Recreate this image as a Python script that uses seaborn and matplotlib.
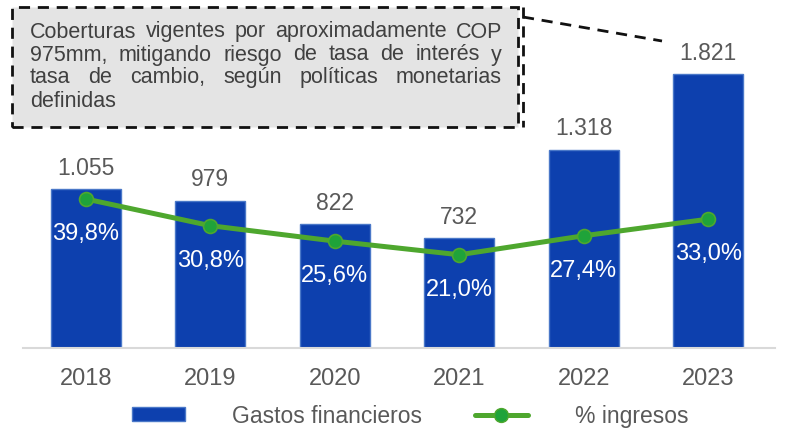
import numpy as np
import seaborn as sns
import matplotlib.pyplot as plt
from matplotlib.patches import Patch, Rectangle
from matplotlib.lines import Line2D

years = ['2018', '2019', '2020', '2021', '2022', '2023']
gastos = [1055, 979, 822, 732, 1318, 1821]
pct_ingresos = [39.8, 30.8, 25.6, 21.0, 27.4, 33.0]
note_lines = [
    "Coberturas vigentes por aproximadamente COP",
    "975mm, mitigando riesgo de tasa de interés y",
    "tasa de cambio, según políticas monetarias",
    "definidas",
]

BLUE = '#0D40AE'
EDGE = '#4A78C8'
GREEN = '#4EA72E'
DOT = '#1FA33A'
GREY = '#595959'

sns.set_style('white')
plt.rcParams['font.family'] = ['Liberation Sans', 'DejaVu Sans']

W, H = 795, 431
fig = plt.figure(figsize=(W / 100, H / 100), dpi=100)
ax = fig.add_axes([23 / W, 1 - 349 / H, (775 - 23) / W, (349 - 20) / H])

sns.barplot(x=years, y=gastos, ax=ax, color=BLUE, saturation=1, width=0.565,
            edgecolor=EDGE, linewidth=1)
ax.set_ylim(0, 2186)
ax.set_xlim(-0.504, 5.536)
for s in ['top', 'left', 'right']:
    ax.spines[s].set_visible(False)
ax.spines['bottom'].set_color('#d9d9d9')
ax.spines['bottom'].set_linewidth(1.5)
ax.set_yticks([])
ax.set_xlabel('')
ax.set_ylabel('')
ax.tick_params(axis='x', length=0, pad=14, labelsize=17, labelcolor=GREY)

for i, v in enumerate(gastos):
    ax.annotate(f"{v:,}".replace(',', '.'), (i, v), xytext=(0, 11),
                textcoords='offset points', ha='center', va='baseline',
                fontsize=16.5, color=GREY)

ax2 = ax.twinx()
x = np.arange(len(years))
sns.lineplot(x=x, y=pct_ingresos, ax=ax2, color=GREEN, linewidth=3.6,
             marker='o', markersize=10, markerfacecolor=DOT,
             markeredgecolor=GREEN, markeredgewidth=1.2)
ax2.set_ylim(-10.4, 100.4)
ax2.set_xlim(-0.504, 5.536)
for s in ax2.spines.values():
    s.set_visible(False)
ax2.set_yticks([])
ax2.set_ylabel('')

for i, p in enumerate(pct_ingresos):
    ax2.annotate(f"{p:.1f}%".replace('.', ','), (i, p), xytext=(0, -24.5),
                 textcoords='offset points', ha='center', va='center',
                 fontsize=17, color='white')

# note box
def fx(px):
    return px / W

def fy(py):
    return 1 - py / H

dash = (0, (4, 2.8))
fig.add_artist(Rectangle((fx(12), fy(128)), fx(518) - fx(12), fy(8) - fy(128),
                         transform=fig.transFigure, facecolor='#e4e4e4',
                         edgecolor='#111111', linewidth=2, linestyle=dash, zorder=5))
fig.add_artist(Line2D([fx(523), fx(523)], [fy(8), fy(128)], transform=fig.transFigure,
                      color='#111111', lw=2, ls=dash, zorder=5))
fig.add_artist(Line2D([fx(523), fx(662)], [fy(18), fy(42)], transform=fig.transFigure,
                      color='#111111', lw=2, ls=dash, zorder=5))

renderer = fig.canvas.get_renderer()
left, right = 30, 502
baselines = [37.5, 60.5, 83.5, 107]
note_size = 15.5
for k, (line, base) in enumerate(zip(note_lines, baselines)):
    words = line.split()
    texts = [fig.text(0, fy(base), w, fontsize=note_size, color='#404040',
                      va='baseline', zorder=6) for w in words]
    widths = [t.get_window_extent(renderer).width for t in texts]
    if k < len(note_lines) - 1 and len(words) > 1:
        gap = (right - left - sum(widths)) / (len(words) - 1)
    else:
        gap = note_size * 100 / 72 * 0.278
    pos = left
    for t, w in zip(texts, widths):
        t.set_x(fx(pos))
        pos += w + gap

handles = [Patch(facecolor=BLUE, edgecolor=EDGE, linewidth=1),
           Line2D([], [], color=GREEN, lw=3.6, marker='o', markersize=10,
                  markerfacecolor=DOT, markeredgecolor=GREEN)]
fig.legend(handles, ['Gastos financieros', '% ingresos'], loc='center',
           bbox_to_anchor=(0.516, 1 - 417 / H), ncol=2, frameon=False,
           fontsize=16.5, labelcolor=GREY, handlelength=2.3, handleheight=0.55,
           handletextpad=2.05, columnspacing=2.3)

fig.savefig('out.png', dpi=100)
